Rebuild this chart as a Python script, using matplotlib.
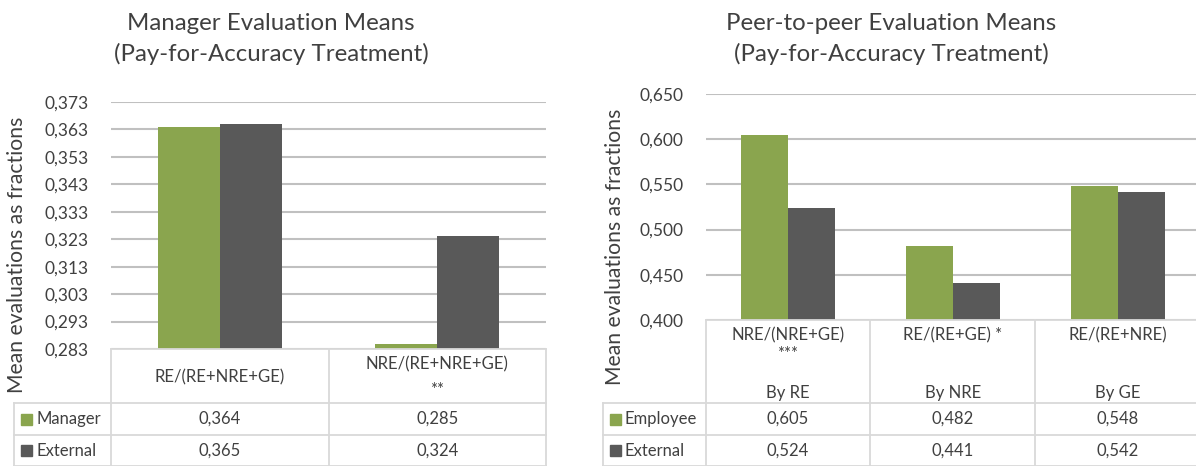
import matplotlib
matplotlib.use('Agg')
import matplotlib.pyplot as plt
from matplotlib.lines import Line2D
from matplotlib.patches import Rectangle

plt.rcParams['font.family'] = ['Lato', 'DejaVu Sans']

# data
mgr_cats = ['RE/(RE+NRE+GE)', 'NRE/(RE+NRE+GE)\n**']
mgr_manager = [0.364, 0.285]
mgr_external = [0.365, 0.324]
mgr_ticks = [0.283, 0.293, 0.303, 0.313, 0.323, 0.333, 0.343, 0.353, 0.363, 0.373]

peer_cats = ['NRE/(NRE+GE)\n***\n\nBy RE', 'RE/(RE+GE) *\n\n\nBy NRE', 'RE/(RE+NRE)\n\n\nBy GE']
peer_employee = [0.605, 0.482, 0.548]
peer_external = [0.524, 0.441, 0.542]
peer_ticks = [0.400, 0.450, 0.500, 0.550, 0.600, 0.650]

GREEN = '#8AA54E'
DARK = '#595959'
GRID = '#C0C0C0'
TBL = '#D9D9D9'
TXT = '#404040'

W, H = 1196, 466
fig = plt.figure(figsize=(W / 100, H / 100), dpi=100)


def fx(x):
    return x / W


def fy(y):
    return 1 - y / H


def fmt(v):
    return f'{v:.3f}'.replace('.', ',')


def hline(x0, x1, y):
    fig.add_artist(Line2D([fx(x0), fx(x1)], [fy(y), fy(y)], color=TBL, lw=1.3))


def vline(x, y0, y1):
    fig.add_artist(Line2D([fx(x), fx(x)], [fy(y0), fy(y1)], color=TBL, lw=1.3))


def chart(left, right, top, bottom, label_left, cats, s1, s2, names, ticks, title_x, ylab_x, ylab_y, header_va):
    ax = fig.add_axes([fx(left), fy(bottom), fx(right - left), (bottom - top) / H])
    n = len(cats)
    xs = list(range(n))
    w = 0.285
    ax.bar([x - w / 2 for x in xs], s1, width=w, color=GREEN, zorder=3)
    ax.bar([x + w / 2 for x in xs], s2, width=w, color=DARK, zorder=3)
    ax.set_xlim(-0.5, n - 0.5)
    ax.set_ylim(ticks[0], ticks[-1])
    ax.set_yticks(ticks)
    ax.set_yticklabels([fmt(t) for t in ticks], fontsize=12.5, color=TXT)
    ax.set_xticks([])
    ax.tick_params(axis='y', length=0, pad=16)
    ax.grid(axis='y', color=GRID, lw=1.5, zorder=0)
    for s in ax.spines.values():
        s.set_visible(False)

    # table
    colw = (right - left) / n
    r1, r2, r3 = 403, 435, 466
    hline(left, right, bottom)
    hline(label_left, right, r1)
    hline(label_left, right, r2)
    hline(label_left, right, r3)
    vline(label_left, r1, r3)
    for i in range(n + 1):
        vline(left + i * colw, bottom, r3)
    for i, c in enumerate(cats):
        cx = left + (i + 0.5) * colw
        if header_va == 'top':
            fig.text(fx(cx), fy(bottom + 7), c, ha='center', va='top', fontsize=12,
                     color=TXT, linespacing=1.25)
        else:
            fig.text(fx(cx), fy((bottom + r1) / 2 + 1), c, ha='center', va='center', fontsize=12,
                     color=TXT, linespacing=1.75)
        fig.text(fx(cx), fy((r1 + r2) / 2), fmt(s1[i]), ha='center', va='center', fontsize=12, color=TXT)
        fig.text(fx(cx), fy((r2 + r3) / 2), fmt(s2[i]), ha='center', va='center', fontsize=12, color=TXT)
    for (yy0, yy1), col, name in [((r1, r2), GREEN, names[0]), ((r2, r3), DARK, names[1])]:
        ym = (yy0 + yy1) / 2
        fig.add_artist(Rectangle((fx(label_left + 7), fy(ym + 5.5)), 11 / W, 11 / H, color=col))
        fig.text(fx(label_left + 22), fy(ym), name, ha='left', va='center', fontsize=12, color=TXT)

    fig.text(fx(title_x), fy(23), names[2], ha='center', va='center', fontsize=17.3, color=TXT)
    fig.text(fx(title_x), fy(54), '(Pay-for-Accuracy Treatment)', ha='center', va='center',
             fontsize=17.3, color=TXT)
    fig.text(fx(ylab_x), fy(ylab_y), 'Mean evaluations as fractions', rotation=90, ha='center',
             va='center', fontsize=15.2, color=TXT)
    return ax


chart(111, 546, 102, 349, 14, mgr_cats, mgr_manager, mgr_external,
      ['Manager', 'External', 'Manager Evaluation Means'], mgr_ticks, 271, 17, 255, 'center')
chart(705.5, 1200, 94, 320, 603, peer_cats, peer_employee, peer_external,
      ['Employee', 'External', 'Peer-to-peer Evaluation Means'], peer_ticks, 891, 615, 247, 'top')

fig.savefig('out.png', dpi=100)
